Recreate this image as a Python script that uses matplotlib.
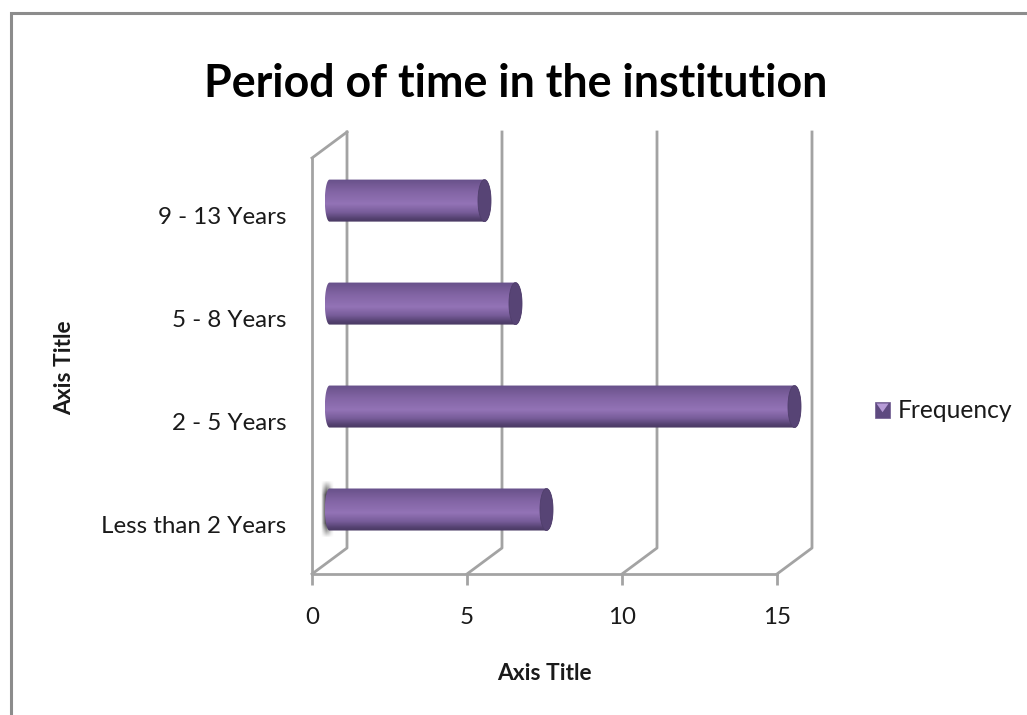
"""Horizontal cylinder chart of time spent in the institution, drawn on a pseudo-3D box."""
import matplotlib

matplotlib.use("Agg")

import matplotlib.pyplot as plt
import numpy as np
from matplotlib.colors import LinearSegmentedColormap
from matplotlib.legend_handler import HandlerBase
from matplotlib.patches import PathPatch, Polygon, Rectangle
from matplotlib.path import Path
from matplotlib.transforms import Affine2D

plt.rcParams["font.family"] = ["Lato", "DejaVu Sans"]

categories = ["Less than 2 Years", "2 - 5 Years", "5 - 8 Years", "9 - 13 Years"]
frequency = [7, 15, 6, 5]
x_ticks = [0, 5, 10, 15]

TITLE = "Period of time in the institution"
SERIES_NAME = "Frequency"
AXIS_TITLE = "Axis Title"

W, H = 1027, 715
GRID = "#a3a3a3"
BORDER = "#8c8c8c"
TEXT = "#1a1a1a"
END_FACE = "#574475"

# Depth of the box in pixels; bars sit halfway back.
DEPTH_X, DEPTH_Y = 35, 26
BAR_HEIGHT = 0.408
CAP_HALF_WIDTH = 0.21
BASE_HALF_WIDTH = 0.15

shade = LinearSegmentedColormap.from_list(
    "cylinder",
    [
        (0.00, "#66508a"),
        (0.08, "#6f5690"),
        (0.30, "#8365a5"),
        (0.58, "#9373b6"),
        (0.78, "#775c99"),
        (0.93, "#52406e"),
        (1.00, "#4a3a63"),
    ],
)

fig = plt.figure(figsize=(W / 100, H / 100), dpi=100)

# Chart frame: only the top and left edges fall inside the image.
frame = fig.add_axes([0, 0, 1, 1], zorder=0)
frame.set_xlim(0, W)
frame.set_ylim(H, 0)
frame.axis("off")
frame.plot([10.5, 10.5, W], [H, 13, 13], color=BORDER, lw=2.2, solid_joinstyle="miter")

# Front plane of the box: value 0-15 across, four category bands down.
ax = fig.add_axes([312 / W, 1 - 574 / H, (777 - 312) / W, (574 - 158) / H], zorder=1)
ax.set_xlim(0, 15)
y_low, y_high = -0.5, len(categories) - 0.46
ax.set_ylim(y_low, y_high)
ax.patch.set_visible(False)
for side in ax.spines.values():
    side.set_visible(False)

back = ax.transData + Affine2D().translate(DEPTH_X, DEPTH_Y)
mid = ax.transData + Affine2D().translate(DEPTH_X / 2, DEPTH_Y / 2)

# Floor, gridlines running back and up the rear wall, and the left wall.
ax.plot([0, 15], [y_low, y_low], color=GRID, lw=2, clip_on=False, zorder=2)
ax.plot([0, 0], [y_low, y_high], color=GRID, lw=2, clip_on=False, zorder=2)
for tick in x_ticks:
    front_px = ax.transData.transform((tick, y_low))
    back_px = back.transform((tick, y_low))
    top_px = back.transform((tick, y_high))
    ax.plot(
        [front_px[0], back_px[0], top_px[0]],
        [front_px[1], back_px[1], top_px[1]],
        color=GRID, lw=2, transform=None, clip_on=False, zorder=2,
    )
left_top = ax.transData.transform((0, y_high))
back_top = back.transform((0, y_high))
ax.plot([left_top[0], back_top[0]], [left_top[1], back_top[1]],
        color=GRID, lw=2, transform=None, clip_on=False, zorder=2)

# Cylinders: gradient body clipped to a rounded outline, darker end cap.
theta = np.linspace(np.pi / 2, 3 * np.pi / 2, 40)
gradient = np.linspace(0, 1, 128).reshape(-1, 1)
for pos, value in enumerate(frequency):
    half = BAR_HEIGHT / 2
    outline = np.vstack([
        [[value, pos + half]],
        np.column_stack([BASE_HALF_WIDTH * np.cos(theta), pos + half * np.sin(theta)]),
        [[value, pos - half]],
        np.column_stack([value + CAP_HALF_WIDTH * np.cos(theta[::-1] - np.pi),
                         pos + half * np.sin(theta[::-1] - np.pi)]),
    ])
    body = ax.imshow(
        gradient, cmap=shade, aspect="auto", vmin=0, vmax=1, origin="upper",
        extent=(-BASE_HALF_WIDTH, value + CAP_HALF_WIDTH, pos - half, pos + half),
        transform=mid, zorder=4, interpolation="bilinear",
    )
    body.set_clip_path(PathPatch(Path(outline, closed=True), transform=mid))
    # the longest bar runs past the front plane, so don't stop at the axes box
    body.set_clip_box(fig.bbox)

    angle = np.linspace(0, 2 * np.pi, 60)
    cap = np.column_stack([value + CAP_HALF_WIDTH * np.cos(angle),
                           pos + half * np.sin(angle)])
    ax.add_patch(Polygon(cap, closed=True, fc=END_FACE, ec="#4f3e6b", lw=0.6,
                         transform=mid, zorder=5, clip_on=False))

ax.set_xlim(0, 15)
ax.set_ylim(y_low, y_high)

# Soft grey smear behind the start of the lowest bar.
taper_x = np.array([0.0, 0.5, 0.8, 0.7, 0.35, 0.0])
taper_y = np.array([0.0, 0.6, 1.0, 1.0, 1.0, 1.0, 1.0, 0.6, 0.0])
frame.imshow(
    np.outer(taper_y, taper_x), cmap="Greys", vmin=0, vmax=1, aspect="auto",
    extent=(320, 335, 541, 477), interpolation="bilinear", zorder=1,
)
frame.set_xlim(0, W)
frame.set_ylim(H, 0)

ax.set_xticks(x_ticks)
ax.set_yticks(range(len(categories)))
ax.set_yticklabels(categories)
ax.tick_params(axis="x", length=8, width=2, color=GRID, pad=15.7, labelsize=17.4, labelcolor=TEXT)
ax.tick_params(axis="y", length=0, pad=18.5, labelsize=17.4, labelcolor=TEXT)
for label in ax.get_yticklabels():
    label.set_transform(label.get_transform() + Affine2D().translate(0, -2))
ax.grid(False)

ax.set_xlabel(AXIS_TITLE, fontsize=16.4, fontweight="bold", color=TEXT)
ax.xaxis.set_label_coords((544 - 312) / (777 - 312), -(663 - 574) / (574 - 158), transform=ax.transAxes)
fig.text(65 / W, 1 - 368 / H, AXIS_TITLE, rotation=90, ha="center", va="center",
         fontsize=16.4, fontweight="bold", color=TEXT)
fig.text(515.5 / W, 1 - 84 / H, TITLE, ha="center", va="center",
         fontsize=32.2, fontweight="bold", color="black")


class ChevronSquare(HandlerBase):
    """Legend key: small shaded square with a pale notch at the top."""

    def create_artists(self, legend, orig, xd, yd, width, height, fontsize, trans):
        square = Rectangle((-xd, -yd), width, height, fc="#5e4a80", ec="#6f5b90",
                           lw=0.5, transform=trans)
        notch = Polygon(
            [[-xd + 0.1 * width, -yd + 0.9 * height],
             [-xd + 0.9 * width, -yd + 0.9 * height],
             [-xd + 0.5 * width, -yd + 0.35 * height]],
            closed=True, fc="#b69bd6", ec="none", transform=trans,
        )
        return [square, notch]


key = Rectangle((0, 0), 1, 1)
fig.legend(
    [key], [SERIES_NAME], handler_map={Rectangle: ChevronSquare()},
    loc="center left", bbox_to_anchor=(870 / W, 1 - 411 / H), frameon=False,
    fontsize=17.7, handlelength=0.62, handleheight=0.62, handletextpad=0.3,
    labelcolor=TEXT, borderpad=0.2, borderaxespad=0,
)

fig.savefig("out.png", dpi=100)
